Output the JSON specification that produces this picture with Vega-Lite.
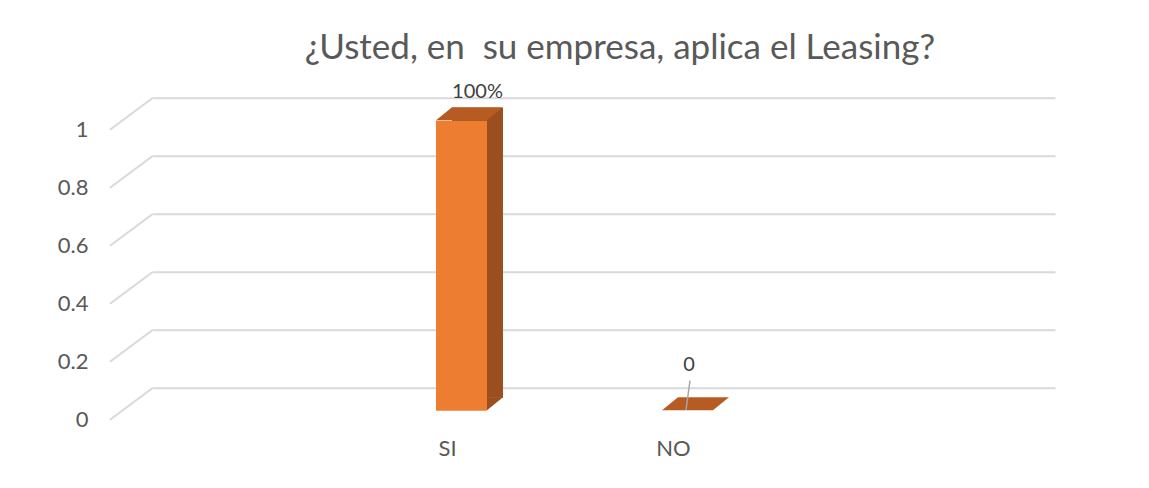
{
  "$schema": "https://vega.github.io/schema/vega-lite/v6.json",
  "width": 902,
  "height": 290,
  "autosize": {"type": "none"},
  "padding": {"left": 153, "top": 97.7, "right": 94, "bottom": 100.3},
  "config": {"font": "Lato", "view": {"stroke": null}},
  "title": {
    "text": "¿Usted, en\u00a0 su empresa, aplica el Leasing?",
    "fontSize": 35,
    "fontWeight": "normal",
    "color": "#595959",
    "frame": "group",
    "anchor": "middle",
    "baseline": "alphabetic",
    "offset": -12,
    "dx": 16
  },
  "datasets": {
    "bars": [
      {"cat": "SI", "value": 1, "label": "100%"},
      {"cat": "NO", "value": 0, "label": "0"}
    ],
    "grid": [
      {"v": 0}, {"v": 0.2}, {"v": 0.4}, {"v": 0.6}, {"v": 0.8}, {"v": 1}
    ]
  },
  "resolve": {"scale": {"x": "independent"}},
  "layer": [
    {
      "data": {"name": "grid"},
      "mark": {"type": "point", "shape": "M0,0L-1,0.744", "size": 7396, "filled": false, "stroke": "#d9d9d9", "strokeWidth": 2, "opacity": 1},
      "encoding": {
        "x": {"datum": 0, "type": "quantitative", "scale": {"domain": [0, 1]}, "axis": null},
        "y": {"field": "v", "type": "quantitative", "scale": {"domain": [0, 1]},
          "axis": {"title": null, "values": [0, 0.2, 0.4, 0.6, 0.8, 1], "format": "~g", "grid": true, "gridColor": "#d9d9d9", "gridWidth": 2, "domain": false, "ticks": false, "labelPadding": 65, "labelOffset": 32, "labelFontSize": 22, "labelColor": "#595959", "labelBaseline": "middle"}}
      }
    },
    {
      "data": {"name": "bars"},
      "encoding": {
        "x": {"field": "cat", "type": "nominal", "sort": ["SI", "NO"],
          "scale": {"range": [283, 560], "paddingInner": 0.7743, "paddingOuter": 0},
          "axis": {"title": null, "domain": false, "ticks": false, "labelAngle": 0, "labelOffset": -14, "labelPadding": 51, "labelFontSize": 22, "labelColor": "#595959"}},
        "y": {"field": "value", "type": "quantitative"}
      },
      "layer": [
        {"mark": {"type": "bar", "color": "#9B4F1E", "xOffset": 16, "yOffset": 10, "y2Offset": 10}},
        {"transform": [{"filter": "datum.value > 0"}],
         "mark": {"type": "point", "shape": "M-1,-0.8125L1,-0.8125L-1,0.8125Z", "size": 256, "filled": true, "color": "#9B4F1E", "opacity": 1, "strokeWidth": 0, "xOffset": 33.5, "yOffset": 16},
         "encoding": {"y": {"datum": 0, "type": "quantitative"}}},
        {"mark": {"type": "bar", "color": "#ED7D31", "yOffset": 23, "y2Offset": 23}},
        {"mark": {"type": "point", "shape": "M-1,0.194L0.522,0.194L1,-0.194L-0.522,-0.194Z", "size": 4489, "filled": true, "color": "#B65C23", "opacity": 1, "strokeWidth": 0, "xOffset": 8, "yOffset": 16}},
        {"transform": [{"filter": "datum.cat === 'NO'"}],
         "mark": {"type": "point", "shape": "M0.109,-0.304L-0.065,0.970", "size": 2116, "filled": false, "stroke": "#a6a6a6", "strokeWidth": 1.5, "opacity": 1}},
        {"transform": [{"filter": "datum.cat === 'SI'"}],
         "mark": {"type": "text", "fontSize": 20, "color": "#404040", "baseline": "middle", "xOffset": 16, "yOffset": -6},
         "encoding": {"text": {"field": "label"}}},
        {"transform": [{"filter": "datum.cat === 'NO'"}],
         "mark": {"type": "text", "fontSize": 20, "color": "#404040", "baseline": "middle", "xOffset": 1.5, "yOffset": -22.7},
         "encoding": {"text": {"field": "label"}}}
      ]
    }
  ]
}
